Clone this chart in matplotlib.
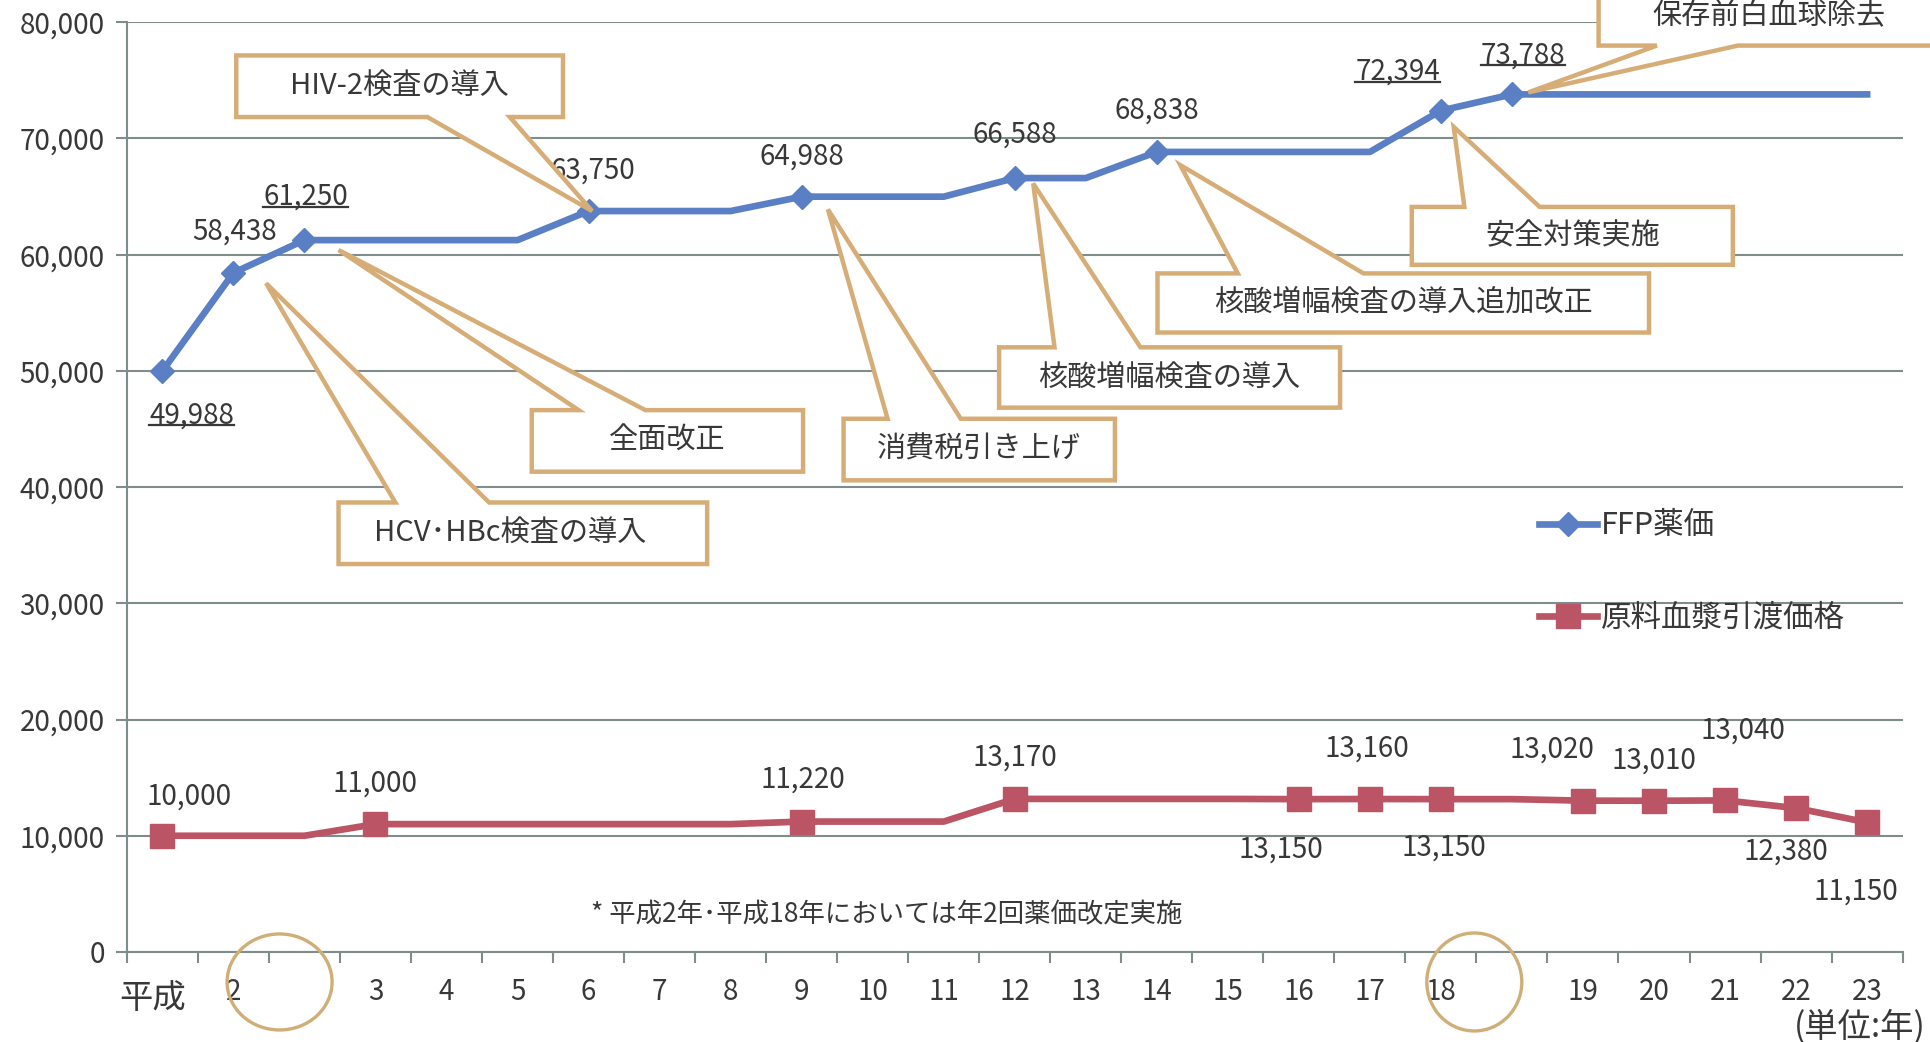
import numpy as np
import matplotlib.pyplot as plt
from matplotlib.lines import Line2D
from matplotlib.patches import Polygon, Ellipse

plt.rcParams['font.family'] = ['Noto Sans CJK JP', 'DejaVu Sans']

# 年（平成2年・18年は年2回改定のため2枠）
years = ['平成', '2', '', '3', '4', '5', '6', '7', '8', '9', '10', '11', '12',
         '13', '14', '15', '16', '17', '18', '', '19', '20', '21', '22', '23']

# FFP薬価
ffp = [49988, 58438, 61250, 61250, 61250, 61250, 63750, 63750, 63750,
       64988, 64988, 64988, 66588, 66588, 68838, 68838, 68838, 68838,
       72394, 73788, 73788, 73788, 73788, 73788, 73788]
ffp_marks = [0, 1, 2, 6, 9, 12, 14, 18, 19]

# 原料血漿引渡価格
plasma = [10000, 10000, 10000, 11000, 11000, 11000, 11000, 11000, 11000,
          11220, 11220, 11220, 13170, 13170, 13170, 13170, 13150, 13160,
          13150, 13150, 13020, 13010, 13040, 12380, 11150]
plasma_marks = [0, 3, 9, 12, 16, 17, 18, 20, 21, 22, 23, 24]

# ラベル位置（点からのずれ, pt）
ffp_lbl = {0: (21, -32), 1: (1, 30), 2: (1, 31), 6: (3, 29), 9: (0, 29),
           12: (0, 31), 14: (0, 30), 18: (-31, 28), 19: (8, 28)}
ffp_underline = [0, 2, 18, 19]
plasma_lbl = {0: (19, 28), 3: (0, 29), 9: (1, 30), 12: (0, 30), 16: (-13, -36),
              17: (-2, 36), 18: (2, -35), 20: (-22, 37), 21: (0, 29),
              22: (13, 50), 23: (-7, -31), 24: (-8, -50)}

# 吹き出し: 文字, 箱(x0, x1, y0, y1), 辺, 付け根(x), 先端(x, y), 文字位置
callouts = [
    ('HIV-2検査の導入', (1.04, 5.64, 71841, 77139), 'bottom', (3.73, 4.89), (6.05, 63750), None),
    ('全面改正', (5.20, 9.02, 41324, 46622), 'top', (5.86, 6.80), (2.48, 60400), None),
    ('HCV･HBc検査の導入', (2.48, 7.67, 33377, 38675), 'top', (3.28, 4.60), (1.46, 57536), (4.89, 36026)),
    ('消費税引き上げ', (9.59, 13.41, 40583, 45880), 'top', (10.21, 11.24), (9.37, 63894), None),
    ('核酸増幅検査の導入', (11.78, 16.58, 46834, 52026), 'top', (12.56, 13.77), (12.26, 66119), None),
    ('核酸増幅検査の導入追加改正', (14.01, 20.93, 53298, 58384), 'top', (15.14, 16.91), (14.33, 67708), None),
    ('安全対策実施', (17.59, 22.11, 59126, 64106), 'top', (18.33, 19.39), (18.18, 70993), None),
    ('保存前白血球除去', (20.22, 25.8, 77987, 84500), 'bottom', (21.04, 22.18), (19.23, 73960), (22.62, 80500)),
]

blue = '#5a7fc4'
red = '#bb5465'
tan = '#d6ad77'
grid = '#7e8d8c'
txt = '#383838'

fig = plt.figure(figsize=(19.31, 10.42), dpi=100)
ax = fig.add_axes([0.0657, 0.0864, 0.9196, 0.8923])
x = np.arange(len(years))

ax.plot(x, ffp, color=blue, lw=4.8, marker='D', ms=12, markevery=ffp_marks,
        solid_joinstyle='round', zorder=3)
ax.plot(x, plasma, color=red, lw=4.8, marker='s', ms=17, markevery=plasma_marks,
        solid_joinstyle='round', zorder=3)

ax.set_xlim(-0.5, 24.5)
ax.set_ylim(0, 80000)
ax.set_yticks(range(0, 80001, 10000))
ax.set_yticklabels([f'{v:,}' for v in range(0, 80001, 10000)])
ax.set_xticks(x)
# 先頭の「平成」は少し大きく左下に置く
ax.set_xticklabels([''] + years[1:])
ax.text(-0.14, -0.05, years[0], transform=ax.get_xaxis_transform(),
        ha='center', va='center', fontsize=24, color=txt)
ax.set_xticks(np.arange(-0.5, 25, 1), minor=True)
ax.tick_params(axis='y', labelsize=20, labelcolor=txt, color=grid, length=8, width=1.5, pad=8)
ax.tick_params(axis='x', which='major', labelsize=20, labelcolor=txt, length=0, pad=18)
ax.tick_params(axis='x', which='minor', color=grid, length=8, width=1.5)
ax.yaxis.grid(True, color=grid, lw=1.5)
ax.set_axisbelow(True)
for s in ['top', 'right']:
    ax.spines[s].set_visible(False)
for s in ['left', 'bottom']:
    ax.spines[s].set_color(grid)
    ax.spines[s].set_linewidth(1.5)

ffp_texts = {}
for i, (dx, dy) in ffp_lbl.items():
    ffp_texts[i] = ax.annotate(f'{ffp[i]:,}', (i, ffp[i]), xytext=(dx, dy),
                               textcoords='offset points', ha='center', va='center',
                               fontsize=20, color=txt, zorder=2)
for i, (dx, dy) in plasma_lbl.items():
    ax.annotate(f'{plasma[i]:,}', (i, plasma[i]), xytext=(dx, dy),
                textcoords='offset points', ha='center', va='center',
                fontsize=20, color=txt, zorder=2)

# 吹き出し
for label, (x0, x1, y0, y1), side, (b0, b1), tip, pos in callouts:
    if side == 'top':
        pts = [(x0, y0), (x0, y1), (b0, y1), tip, (b1, y1), (x1, y1), (x1, y0)]
    else:
        pts = [(x0, y1), (x1, y1), (x1, y0), (b1, y0), tip, (b0, y0), (x0, y0)]
    ax.add_patch(Polygon(pts, closed=True, facecolor='white', edgecolor=tan,
                         lw=3.2, joinstyle='miter', clip_on=False, zorder=5))
    if pos is None:
        pos = ((x0 + x1) / 2, (y0 + y1) / 2)
    ax.text(pos[0], pos[1], label, ha='center', va='center', fontsize=21,
            color=txt, zorder=6, clip_on=False)

handles = [Line2D([], [], color=blue, lw=4.8, marker='D', ms=12),
           Line2D([], [], color=red, lw=4.8, marker='s', ms=17)]
ax.legend(handles, ['FFP薬価', '原料血漿引渡価格'], loc='upper left',
          bbox_to_anchor=(0.795, 0.475), frameon=False, fontsize=22,
          handlelength=1.9, handletextpad=0.15, labelspacing=2.0,
          borderpad=0, borderaxespad=0, labelcolor=txt)

ax.text(0.428, 0.04, '* 平成2年･平成18年においては年2回薬価改定実施',
        transform=ax.transAxes, ha='center', va='center', fontsize=19, color=txt)
fig.text(0.963, 0.015, '(単位:年)', ha='center', va='center', fontsize=24, color=txt)

# 年2回改定の年を丸で囲む
fig.canvas.draw()
for xi, w, h in [(1.65, 1.05, 0.96), (18.47, 0.95, 0.98)]:
    cx, cy = ax.transData.transform((xi, 0))
    ax.add_patch(Ellipse((cx / 100, cy / 100 - 0.30), w, h, transform=fig.dpi_scale_trans,
                         fill=False, edgecolor='#d0ae78', lw=2.4, clip_on=False, zorder=6))

# 下線付きラベル
renderer = fig.canvas.get_renderer()
for i in ffp_underline:
    bb = ffp_texts[i].get_window_extent(renderer)
    yy = bb.y0 + 0.17 * bb.height
    fig.add_artist(Line2D([bb.x0 / 100, bb.x1 / 100], [yy / 100, yy / 100],
                          transform=fig.dpi_scale_trans, color=txt, lw=1.6))

fig.savefig('out.png', dpi=100)
